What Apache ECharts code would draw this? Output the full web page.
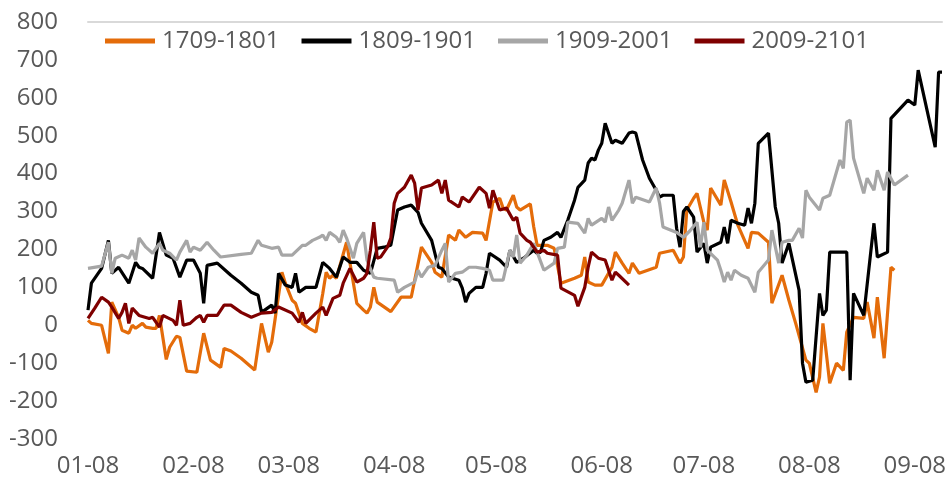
<!DOCTYPE html>
<html>
<head>
<meta charset="utf-8">
<script src="https://cdn.jsdelivr.net/npm/echarts@6/dist/echarts.min.js"></script>
<style>
  html, body { margin: 0; padding: 0; background: #fff; }
  #chart { width: 948px; height: 487px; }
</style>
</head>
<body>
<div id="chart"></div>
<script>
// x = days since 01-08
const tickDays = [0, 31, 59, 90, 120, 151, 181, 212, 243];
const tickLabels = ["01-08", "02-08", "03-08", "04-08", "05-08", "06-08", "07-08", "08-08", "09-08"];
const seriesNames = ["1709-1801", "1809-1901", "1909-2001", "2009-2101"];

const orange1709 = [[0,13],[1,5],[4,0],[6,-74],[7,61],[9,21],[10,-13],[12,-21],[13,0],[14,-8],[16,5],[17,-5],[19,-8],[20,-8],[21,26],[23,-90],[24,-58],[26,-29],[27,-32],[29,-121],[32,-124],[34,-21],[36,-92],[39,-111],[40,-61],[42,-68],[45,-87],[49,-118],[51,5],[53,-71],[54,-45],[57,140],[58,111],[60,66],[61,58],[63,5],[65,-8],[67,-18],[69,84],[70,140],[71,124],[72,132],[73,124],[76,219],[77,164],[79,58],[81,40],[82,32],[83,48],[84,100],[85,61],[89,36],[92,74],[95,74],[98,206],[101,166],[102,140],[104,127],[106,238],[108,224],[109,251],[111,232],[113,245],[116,243],[117,224],[119,325],[121,335],[122,309],[123,304],[125,343],[126,312],[127,304],[130,320],[131,260],[132,211],[135,211],[137,203],[139,111],[143,124],[145,132],[146,180],[147,114],[149,106],[151,106],[154,153],[155,193],[157,164],[159,137],[160,164],[162,137],[167,153],[168,190],[172,198],[174,164],[175,180],[176,304],[178,335],[179,348],[181,272],[182,251],[183,362],[186,317],[187,383],[189,325],[191,264],[194,203],[195,245],[197,243],[200,219],[201,58],[204,132],[206,66],[208,5],[211,-92],[212,-100],[214,-177],[215,-137],[216,5],[218,-153],[220,-100],[222,-119],[223,-18],[225,21],[228,18],[229,61],[231,-34],[232,74],[234,-87],[236,153],[237,145]];

const black1809 = [[0,40],[1,111],[4,150],[6,224],[7,137],[9,153],[12,111],[14,166],[15,153],[16,150],[19,124],[21,245],[23,185],[25,177],[27,127],[29,172],[31,172],[33,137],[34,58],[35,158],[38,164],[41,140],[42,132],[45,111],[48,87],[50,79],[51,34],[54,53],[55,32],[56,137],[58,106],[60,100],[61,137],[62,87],[64,100],[67,100],[69,166],[71,150],[73,127],[75,180],[77,166],[79,166],[81,145],[83,137],[85,203],[87,206],[89,211],[91,304],[93,312],[95,317],[97,298],[98,269],[101,224],[103,153],[104,150],[106,127],[109,119],[110,98],[111,61],[112,84],[114,100],[116,100],[117,137],[118,190],[121,172],[123,153],[124,198],[126,166],[128,177],[131,198],[132,190],[133,193],[134,224],[136,232],[138,245],[139,232],[141,277],[143,330],[144,364],[146,383],[147,428],[148,441],[149,436],[150,462],[151,480],[152,533],[154,480],[155,488],[157,480],[159,507],[160,510],[161,507],[163,436],[165,388],[167,356],[168,338],[169,343],[172,343],[173,256],[174,206],[175,300],[176,312],[178,285],[179,193],[181,216],[182,164],[183,206],[186,219],[187,259],[188,216],[189,277],[191,269],[193,264],[194,309],[195,269],[196,322],[197,480],[200,507],[202,312],[203,269],[204,164],[206,216],[209,92],[210,-100],[211,-150],[213,-145],[215,84],[216,26],[217,40],[218,193],[223,193],[224,-145],[225,84],[228,26],[231,269],[232,180],[235,193],[236,546],[241,594],[243,581],[244,673],[249,470],[250,668],[251,668]];

const gray1909 = [[0,150],[4,156],[6,219],[7,137],[8,177],[10,185],[12,177],[13,198],[14,172],[15,230],[17,206],[19,190],[21,216],[22,198],[24,190],[26,172],[27,193],[29,224],[30,193],[31,206],[33,198],[35,219],[37,198],[39,180],[45,187],[48,190],[50,224],[51,211],[54,203],[56,206],[57,185],[60,185],[63,211],[64,211],[66,224],[68,232],[69,238],[70,224],[71,245],[73,232],[74,219],[75,251],[76,230],[78,177],[79,216],[81,245],[82,172],[84,127],[85,124],[90,119],[91,87],[93,100],[96,114],[97,145],[98,127],[100,153],[102,158],[104,198],[105,216],[106,114],[108,137],[110,140],[112,153],[114,153],[116,150],[118,145],[119,119],[122,119],[124,198],[125,180],[126,238],[127,164],[129,185],[131,216],[132,193],[134,145],[137,164],[138,203],[140,206],[141,272],[144,269],[146,243],[147,282],[148,264],[151,282],[152,272],[153,312],[154,277],[156,304],[157,322],[159,383],[160,322],[161,338],[165,325],[167,362],[168,322],[169,259],[173,245],[175,232],[177,250],[179,272],[180,206],[181,272],[182,198],[185,172],[186,145],[187,114],[188,140],[189,119],[190,145],[192,132],[194,124],[196,87],[197,140],[200,172],[201,251],[203,164],[204,219],[206,224],[207,224],[209,256],[210,230],[211,356],[212,338],[215,304],[216,335],[218,343],[221,436],[222,414],[223,536],[224,541],[225,441],[228,348],[229,388],[231,356],[232,409],[234,356],[235,404],[237,370],[241,396]];

const red2009 = [[0,18],[2,45],[4,74],[6,61],[7,48],[9,18],[10,34],[11,58],[12,5],[13,45],[15,26],[18,18],[19,21],[21,-5],[22,26],[25,13],[26,0],[27,66],[28,0],[30,5],[32,21],[33,26],[34,8],[35,26],[38,26],[40,53],[42,53],[45,34],[48,21],[51,32],[54,34],[56,48],[60,32],[62,8],[63,34],[64,5],[67,32],[69,48],[70,26],[72,71],[74,79],[75,111],[77,150],[79,114],[81,124],[82,137],[83,198],[84,272],[85,177],[86,180],[88,206],[89,230],[90,322],[91,348],[93,364],[95,396],[96,375],[97,304],[98,362],[101,370],[103,383],[104,348],[105,383],[106,330],[109,312],[110,338],[112,325],[115,364],[117,348],[118,309],[119,356],[121,304],[123,309],[125,277],[126,285],[127,243],[129,224],[130,219],[132,193],[134,198],[135,190],[138,185],[139,98],[143,79],[144,50],[146,100],[147,153],[148,193],[150,177],[152,172],[154,119],[155,140],[156,132],[159,106]];

const colors = ["#e46c0a", "#000000", "#a6a6a6", "#7f0000"];
const allData = [orange1709, black1809, gray1909, red2009];

const chart = echarts.init(document.getElementById("chart"), null, { renderer: "canvas" });
const font = "'Open Sans', 'Liberation Sans', sans-serif";

chart.setOption({
  animation: false,
  backgroundColor: "#ffffff",
  grid: { left: 88, right: 6, top: 22, bottom: 48, outerBoundsMode: "none" },
  legend: {
    top: 24,
    left: 100,
    icon: "rect",
    itemWidth: 50,
    itemHeight: 5,
    itemGap: 22,
    textStyle: { color: "#595959", fontSize: 24, fontFamily: font, padding: [0, 0, 0, 2] },
    data: seriesNames
  },
  xAxis: [
    {
      type: "value",
      min: 0,
      max: 251,
      position: "bottom",
      axisLine: { show: false },
      axisTick: { show: false },
      splitLine: { show: false },
      axisLabel: {
        customValues: tickDays,
        formatter: (v) => tickLabels[tickDays.indexOf(Math.round(v))] || "",
        color: "#595959",
        fontSize: 24,
        fontFamily: font,
        margin: 15
      }
    },
    {
      type: "value",
      min: 0,
      max: 251,
      axisLine: { show: true, onZero: true, lineStyle: { color: "#d9d9d9", width: 2 } },
      axisTick: { show: false },
      axisLabel: { show: false },
      splitLine: { show: false }
    }
  ],
  yAxis: {
    type: "value",
    min: -300,
    max: 800,
    interval: 100,
    axisLine: { show: false },
    axisTick: { show: false },
    splitLine: { show: false },
    axisLabel: { color: "#595959", fontSize: 24, fontFamily: font, margin: 30 }
  },
  series: seriesNames.map((name, i) => ({
    name,
    type: "line",
    xAxisIndex: 0,
    data: allData[i],
    symbol: "none",
    color: colors[i],
    lineStyle: { color: colors[i], width: 3.2 },
    z: 2 + i
  }))
});
</script>
</body>
</html>
